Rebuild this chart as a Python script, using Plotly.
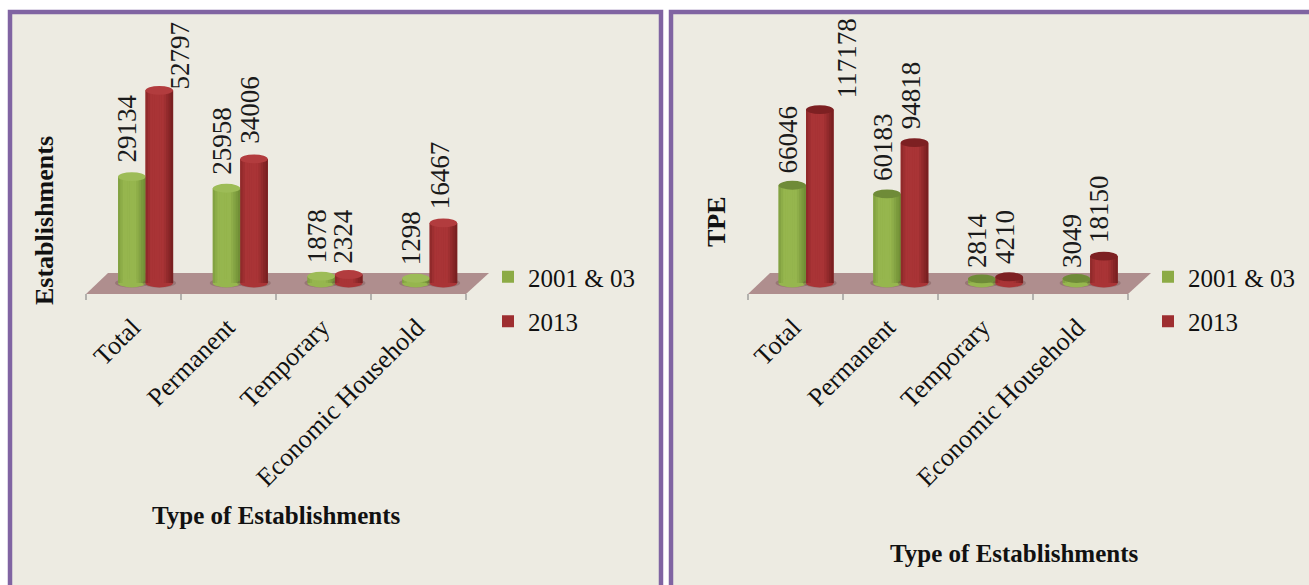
import plotly.graph_objects as go

# ---- data ----
categories = ["Total", "Permanent", "Temporary", "Economic Household"]
series_names = ["2001 & 03", "2013"]
establishments_2001 = [29134, 25958, 1878, 1298]
establishments_2013 = [52797, 34006, 2324, 16467]
tpe_2001 = [66046, 60183, 2814, 3049]
tpe_2013 = [117178, 94818, 4210, 18150]

# ---- layout constants ----
W, H = 1309, 585
FONT = "Liberation Serif, Times New Roman, serif"
GREEN, RED = "#8CAB45", "#9E2E30"
BG = "#EDEBE2"
PURPLE = "#8064A2"
FLOOR = "#AF8E8E"
BASE_PX, TOP_PX, BOTTOM_PX = 283, 12, 297
HALF_W = 0.145


def px(x):
    return x / W


def py(y):
    return 1 - y / H


def ramp(c_edge, c_mid, t):
    a = [int(c_edge[i:i + 2], 16) for i in (1, 3, 5)]
    b = [int(c_mid[i:i + 2], 16) for i in (1, 3, 5)]
    return "rgb(%d,%d,%d)" % tuple(round(p + (q - p) * t) for p, q in zip(a, b))


STYLES = {
    "green": dict(edge="#6C8A33", mid="#96B64E"),
    "red": dict(edge="#741D1E", mid="#A93436"),
}

shapes = []
annotations = []


def poly(points, **kw):
    d = "M" + "L".join(f"{px(x):.5f},{py(y):.5f}" for x, y in points) + "Z"
    return dict(type="path", path=d, xref="paper", yref="paper", **kw)


def panel(x0, x1):
    shapes.append(dict(type="rect", xref="paper", yref="paper", layer="below",
                       x0=px(x0), x1=px(x1), y0=py(H + 10), y1=py(12),
                       fillcolor=BG, line=dict(color=PURPLE, width=4.5)))


def floor(x_left):
    shapes.append(poly([(x_left, 294), (x_left + 22, 273), (x_left + 403, 273), (x_left + 380, 294)],
                       layer="below", fillcolor=FLOOR, line=dict(width=0)))
    for i in range(5):
        tx = x_left + 95 * i
        shapes.append(dict(type="line", xref="paper", yref="paper", layer="below",
                           x0=px(tx), x1=px(tx), y0=py(294), y1=py(300),
                           line=dict(color="#8C8C8C", width=1.2)))


def cylinder(xa, ya, i, off, v, style, scale, top_color):
    cx = i + off
    ell = 4.4 / scale
    # shadow + bottom cap
    shapes.append(dict(type="circle", xref=xa, yref=ya, x0=cx - HALF_W * 1.22, x1=cx + HALF_W * 1.22,
                       y0=-ell * 1.05, y1=ell * 1.05, fillcolor="rgba(110,75,75,0.35)", line=dict(width=0)))
    shapes.append(dict(type="circle", xref=xa, yref=ya, x0=cx - HALF_W, x1=cx + HALF_W,
                       y0=-ell, y1=ell, fillcolor=style["mid"], line=dict(width=0)))
    # cylinder shading drawn over the real bar, from the same value
    n = 12
    for k in range(n):
        t = (k + 0.5) / n
        shade = 1 - abs(t - 0.42) / 0.58
        shapes.append(dict(type="rect", xref=xa, yref=ya,
                           x0=cx - HALF_W + 2 * HALF_W * k / n,
                           x1=cx - HALF_W + 2 * HALF_W * (k + 1) / n + 0.002,
                           y0=0, y1=v, line=dict(width=0),
                           fillcolor=ramp(style["edge"], style["mid"], min(1, shade * 1.6))))
    shapes.append(dict(type="circle", xref=xa, yref=ya, x0=cx - HALF_W, x1=cx + HALF_W,
                       y0=v - ell, y1=v + ell, fillcolor=top_color, line=dict(width=0)))


def label(xa, ya, i, off, v, dx, dy):
    annotations.append(dict(xref=xa, yref=ya, x=i + off, y=v, text=str(v), showarrow=False,
                            textangle=-90, xanchor="center", yanchor="bottom", xshift=dx, yshift=dy - 3,
                            font=dict(family=FONT, size=27, color="#1A1A1A")))


def title(x, y, text, angle=0, size=25):
    annotations.append(dict(xref="paper", yref="paper", x=px(x), y=py(y), text=f"<b>{text}</b>",
                            showarrow=False, textangle=angle, xanchor="center", yanchor="middle",
                            font=dict(family=FONT, size=size, color="#111111")))


fig = go.Figure()

panels = [
    dict(sfx="", left=98.2, a=establishments_2001, b=establishments_2013, scale=0.00365,
         shifts_a=[(-5, 15), (-4, 14), (-4, 14), (-5, 14)],
         shifts_b=[(21, 2), (-4, 16), (-6, 12), (-3, 15)],
         top_a="#9DBC57", top_b="#B23C3E", legend="legend"),
    dict(sfx="2", left=758.7, a=tpe_2001, b=tpe_2013, scale=0.00148,
         shifts_a=[(-4, 13), (-4, 14), (-4, 12), (-4, 12)],
         shifts_b=[(27, 12), (-4, 15), (-4, 14), (-5, 14)],
         top_a="#6F8B38", top_b="#7D2022", legend="legend2"),
]

layout_axes = {}
panel(10, 661)
panel(671, W + 10)
floor(86)
floor(748)

for p in panels:
    xa, ya = "x" + p["sfx"], "y" + p["sfx"]
    for name, vals, color, off, style, top, shifts in [
        (series_names[0], p["a"], GREEN, -HALF_W, STYLES["green"], p["top_a"], p["shifts_a"]),
        (series_names[1], p["b"], RED, HALF_W, STYLES["red"], p["top_b"], p["shifts_b"]),
    ]:
        fig.add_trace(go.Bar(x=categories, y=vals, name=name, xaxis=xa, yaxis=ya, legendgroup=name + p["sfx"],
                             marker=dict(color=color, line=dict(width=0)), legend=p["legend"],
                             offsetgroup=name, width=2 * HALF_W, offset=off - HALF_W))
        for i, v in enumerate(vals):
            cylinder(xa, ya, i, off, v, style, p["scale"], top)
            label(xa, ya, i, off, v, *shifts[i])

    left, s = p["left"], p["scale"]
    layout_axes["xaxis" + p["sfx"]] = dict(
        domain=[px(left), px(left + 378.8)], type="category", categoryorder="array",
        categoryarray=categories, range=[-0.5, 3.5], anchor=ya, showgrid=False, zeroline=False,
        showline=False, ticks="", tickangle=-45, ticklabelshift=-13, ticklabelstandoff=9,
        tickfont=dict(family=FONT, size=26, color="#111111"))
    layout_axes["yaxis" + p["sfx"]] = dict(
        domain=[py(BOTTOM_PX), py(TOP_PX)], range=[-(BOTTOM_PX - BASE_PX) / s, (BASE_PX - TOP_PX) / s],
        anchor=xa, visible=False, showgrid=False, zeroline=False)

title(276, 515, "Type of Establishments")
title(1014, 553, "Type of Establishments")
title(44, 221, "Establishments", -90, 26)
title(716, 222, "TPE", -90, 26)


def legend_at(x, y):
    return dict(x=px(x), y=py(y), xanchor="left", yanchor="top", bgcolor="rgba(0,0,0,0)",
                font=dict(family=FONT, size=25, color="#111111"), tracegroupgap=9,
                orientation="v", traceorder="grouped")


fig.update_layout(
    width=W, height=H, margin=dict(l=0, r=0, t=0, b=0, pad=0, autoexpand=False), autosize=False,
    paper_bgcolor="white", plot_bgcolor="rgba(0,0,0,0)",
    barmode="overlay", shapes=shapes, annotations=annotations,
    legend=legend_at(488, 254), legend2=legend_at(1148, 254),
    font=dict(family=FONT), **layout_axes)

fig.write_html("out.html", config=dict(displayModeBar=False),
               post_script="document.body.style.margin='0';")
